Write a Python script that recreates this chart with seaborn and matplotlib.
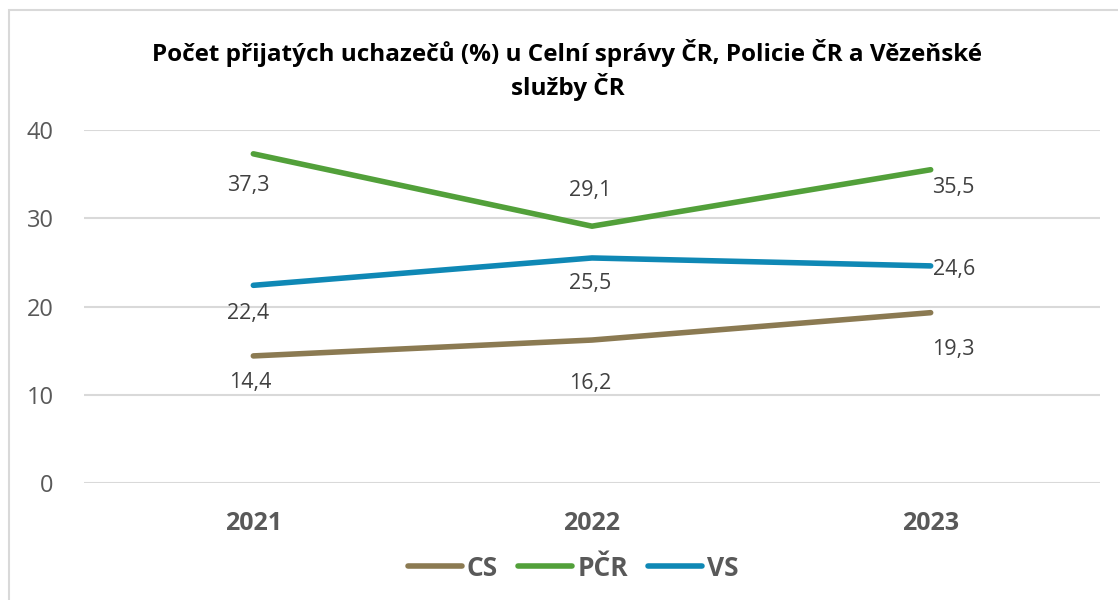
import matplotlib
matplotlib.use("Agg")
import matplotlib.pyplot as plt
import seaborn as sns
import pandas as pd
from matplotlib.patches import Rectangle
from matplotlib.lines import Line2D

years = ["2021", "2022", "2023"]
series_names = ["CS", "PČR", "VS"]
cs_values = [14.4, 16.2, 19.3]
pcr_values = [37.3, 29.1, 35.5]
vs_values = [22.4, 25.5, 24.6]
y_ticks = [0, 10, 20, 30, 40]
title = "Počet přijatých uchazečů (%) u Celní správy ČR, Policie ČR a Vězeňské\nslužby ČR"

colors = {"CS": "#8B7A52", "PČR": "#52A03A", "VS": "#0F88B5"}
# label offsets in pixels (dx, dy) per series/point
label_offsets = {
    "CS": [(-3, -27), (-2, -43), (23, -37)],
    "PČR": [(-5, -32), (-2, 36), (23, -18)],
    "VS": [(-5, -28), (-2, -26), (23, -4)],
}

df = pd.DataFrame({
    "year": years * 3,
    "series": [s for s in series_names for _ in years],
    "value": cs_values + pcr_values + vs_values,
})
df["x"] = df["year"].map({y: i for i, y in enumerate(years)})

sns.set_theme(style="white")
plt.rcParams["font.family"] = ["Open Sans", "DejaVu Sans"]

fig = plt.figure(figsize=(11.18, 6.0), dpi=100)
ax = fig.add_axes([84 / 1118, 1 - 483 / 600, (1100 - 84) / 1118, (483 - 130) / 600])

sns.lineplot(data=df, x="x", y="value", hue="series", palette=colors,
             hue_order=series_names, linewidth=4, ax=ax, legend=False,
             solid_capstyle="round")

ax.set_xlim(-0.5, 2.5)
ax.set_ylim(0, 40)
ax.set_xticks(range(len(years)))
ax.set_xticklabels(years, fontsize=18, fontweight="bold", color="#595959")
ax.set_yticks(y_ticks)
ax.set_yticklabels([str(t) for t in y_ticks], fontsize=17, color="#595959")
ax.tick_params(axis="x", length=0, pad=20)
ax.tick_params(axis="y", length=0, pad=22)
ax.grid(axis="y", color="#D9D9D9", linewidth=1.5)
ax.set_axisbelow(True)
for sp in ax.spines.values():
    sp.set_visible(False)
ax.set_xlabel("")
ax.set_ylabel("")

for s in series_names:
    sub = df[df["series"] == s].reset_index(drop=True)
    for i, row in sub.iterrows():
        dx, dy = label_offsets[s][i]
        ax.annotate(f"{row['value']:.1f}".replace(".", ","), (row["x"], row["value"]),
                    xytext=(dx, dy), textcoords="offset pixels",
                    ha="center", va="center", fontsize=15.5, color="#404040")

fig.text(0.5076, 1 - 70 / 600, title, ha="center", va="center", fontsize=17.5,
         fontweight="bold", color="black", linespacing=1.3)

handles = [Line2D([0], [0], color=colors[s], linewidth=4, solid_capstyle="round") for s in series_names]
leg = fig.legend(handles, series_names, loc="center", bbox_to_anchor=(573 / 1118, 1 - 568 / 600),
                 ncol=3, frameon=False, handlelength=2.05, handletextpad=0.2, columnspacing=0.75,
                 prop={"size": 19, "weight": "bold"})
for t in leg.get_texts():
    t.set_color("#595959")

fig.patches.append(Rectangle((9 / 1118, -0.1), 1.2, 1 - 10 / 600 + 0.1, transform=fig.transFigure,
                             fill=False, edgecolor="#D9D9D9", linewidth=1.5))

fig.savefig("out.png", dpi=100)
